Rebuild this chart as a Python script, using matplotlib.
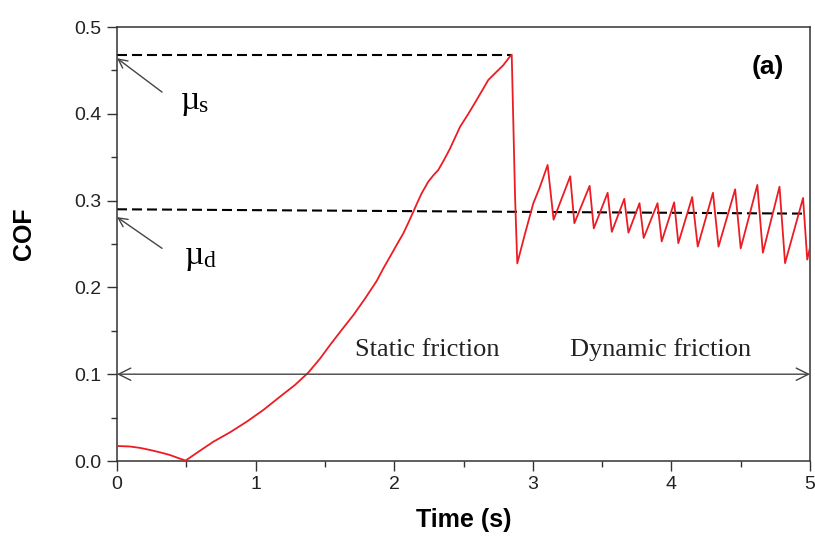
import matplotlib
matplotlib.use("Agg")
import matplotlib.pyplot as plt
from matplotlib.ticker import MultipleLocator, FormatStrFormatter

# Friction coefficient record, time (s) vs COF
time_s = [0.000, 0.094, 0.170, 0.238, 0.310, 0.380, 0.440, 0.495,
          0.599, 0.695, 0.815, 0.936, 1.056, 1.176, 1.284, 1.380, 1.465,
          1.537, 1.621, 1.705, 1.789, 1.874, 1.922, 1.970, 2.018, 2.066,
          2.102, 2.138, 2.168, 2.198, 2.246, 2.282, 2.318, 2.360, 2.403,
          2.475, 2.535, 2.595, 2.679, 2.739, 2.787, 2.835, 2.848, 2.872,
          2.888, 2.944, 3.004, 3.052, 3.107, 3.15, 3.27, 3.30, 3.41, 3.44,
          3.54, 3.57, 3.66, 3.69, 3.77, 3.80, 3.90, 3.93, 4.02, 4.05, 4.15,
          4.19, 4.30, 4.34, 4.46, 4.50, 4.62, 4.66, 4.78, 4.82, 4.95, 4.98,
          5.00]
cof = [0.0173, 0.0167, 0.0150, 0.0127, 0.0100, 0.0070, 0.0035, 0.0005,
       0.0119, 0.0222, 0.0330, 0.0453, 0.0588, 0.0741, 0.0876, 0.1018, 0.1180,
       0.1336, 0.1510, 0.1680, 0.1870, 0.2075, 0.2220, 0.2354, 0.2490, 0.2623,
       0.2745, 0.2872, 0.2980, 0.3084, 0.3218, 0.3290, 0.3353, 0.3470, 0.3600,
       0.3850, 0.4000, 0.4160, 0.4390, 0.4485, 0.4560, 0.4660, 0.4680, 0.3045,
       0.2277, 0.2620, 0.2970, 0.3160, 0.3410, 0.278, 0.328, 0.274, 0.317, 0.268,
       0.309, 0.264, 0.302, 0.263, 0.297, 0.257, 0.297, 0.253, 0.298, 0.251, 0.304,
       0.247, 0.309, 0.247, 0.313, 0.245, 0.318, 0.240, 0.316, 0.228, 0.303, 0.232,
       0.246]

mu_static = 0.468
mu_static_end = 2.84
mu_dynamic_start = 0.290
mu_dynamic_end = 0.285

x_ticks = [0, 1, 2, 3, 4, 5]
y_ticks = [0.0, 0.1, 0.2, 0.3, 0.4, 0.5]

sans = "Liberation Sans"
serif = "Liberation Serif"

fig = plt.figure(figsize=(8.15, 5.44), dpi=100)
ax = fig.add_axes([117 / 815, 83 / 544, 693 / 815, 434 / 544])

# reference levels
ax.plot([0, mu_static_end], [mu_static, mu_static], color="black",
        lw=1.5, linestyle=(0, (4.8, 2.4)), zorder=2)
ax.plot([0, 4.96], [mu_dynamic_start, mu_dynamic_end], color="black",
        lw=1.5, linestyle=(0, (4.8, 2.4)), zorder=2)

# measured curve
ax.plot(time_s, cof, color="#ec1c24", lw=1.3, zorder=3,
        solid_joinstyle="round")

ax.set_xlim(0, 5)
ax.set_ylim(0, 0.5)
ax.set_xticks(x_ticks)
ax.set_yticks(y_ticks)
ax.xaxis.set_minor_locator(MultipleLocator(0.5))
ax.yaxis.set_minor_locator(MultipleLocator(0.05))
ax.yaxis.set_major_formatter(FormatStrFormatter("%.1f"))
ax.xaxis.set_major_formatter(FormatStrFormatter("%d"))

ax.tick_params(which="both", direction="out", top=False, right=False,
               width=1.0, colors="#333333")
ax.tick_params(which="major", length=7, pad=4, labelsize=14)
ax.tick_params(which="minor", length=4)
for lab in ax.get_xticklabels() + ax.get_yticklabels():
    lab.set_fontfamily(sans)
    lab.set_color("#222222")
for sp in ax.spines.values():
    sp.set_linewidth(1.1)
    sp.set_color("#333333")

ax.set_xlabel("Time (s)", fontfamily=sans, fontweight="bold", fontsize=18)
ax.set_ylabel("COF", fontfamily=sans, fontweight="bold", fontsize=18)
ax.xaxis.set_label_coords(0.5, -0.108)
ax.yaxis.set_label_coords(-0.117, 0.523)

ax.text(0.939, 0.908, "(a)", transform=ax.transAxes, ha="center", va="center",
        fontfamily=sans, fontweight="bold", fontsize=19)

# mu labels with arrows to the axis
arrow_kw = dict(arrowstyle="->", color="#444444", lw=1.0, shrinkA=0, shrinkB=0,
                mutation_scale=16)
ax.annotate("", xy=(0.0, 0.464), xytext=(0.325, 0.425), arrowprops=arrow_kw,
            annotation_clip=False)
ax.annotate("", xy=(0.0, 0.281), xytext=(0.325, 0.245), arrowprops=arrow_kw,
            annotation_clip=False)
ax.text(0.46, 0.415, "\u00b5", fontfamily=serif, fontsize=24, ha="left", va="center")
ax.text(0.59, 0.408, "s", fontfamily=serif, fontsize=17, ha="left", va="center")
ax.text(0.49, 0.237, "\u00b5", fontfamily=serif, fontsize=24, ha="left", va="center")
ax.text(0.62, 0.230, "d", fontfamily=serif, fontsize=17, ha="left", va="center")

# static / dynamic span arrow
ax.annotate("", xy=(5.0, 0.1), xytext=(0.0, 0.1),
            arrowprops=dict(arrowstyle="<->", color="#444444", lw=1.0,
                            shrinkA=0, shrinkB=0, mutation_scale=22),
            annotation_clip=False)
ax.text(2.24, 0.128, "Static friction", fontfamily=serif, fontsize=19,
        ha="center", va="center", color="#222222")
ax.text(3.92, 0.128, "Dynamic friction", fontfamily=serif, fontsize=19,
        ha="center", va="center", color="#222222")

fig.savefig("out.png", dpi=100, facecolor="white")
